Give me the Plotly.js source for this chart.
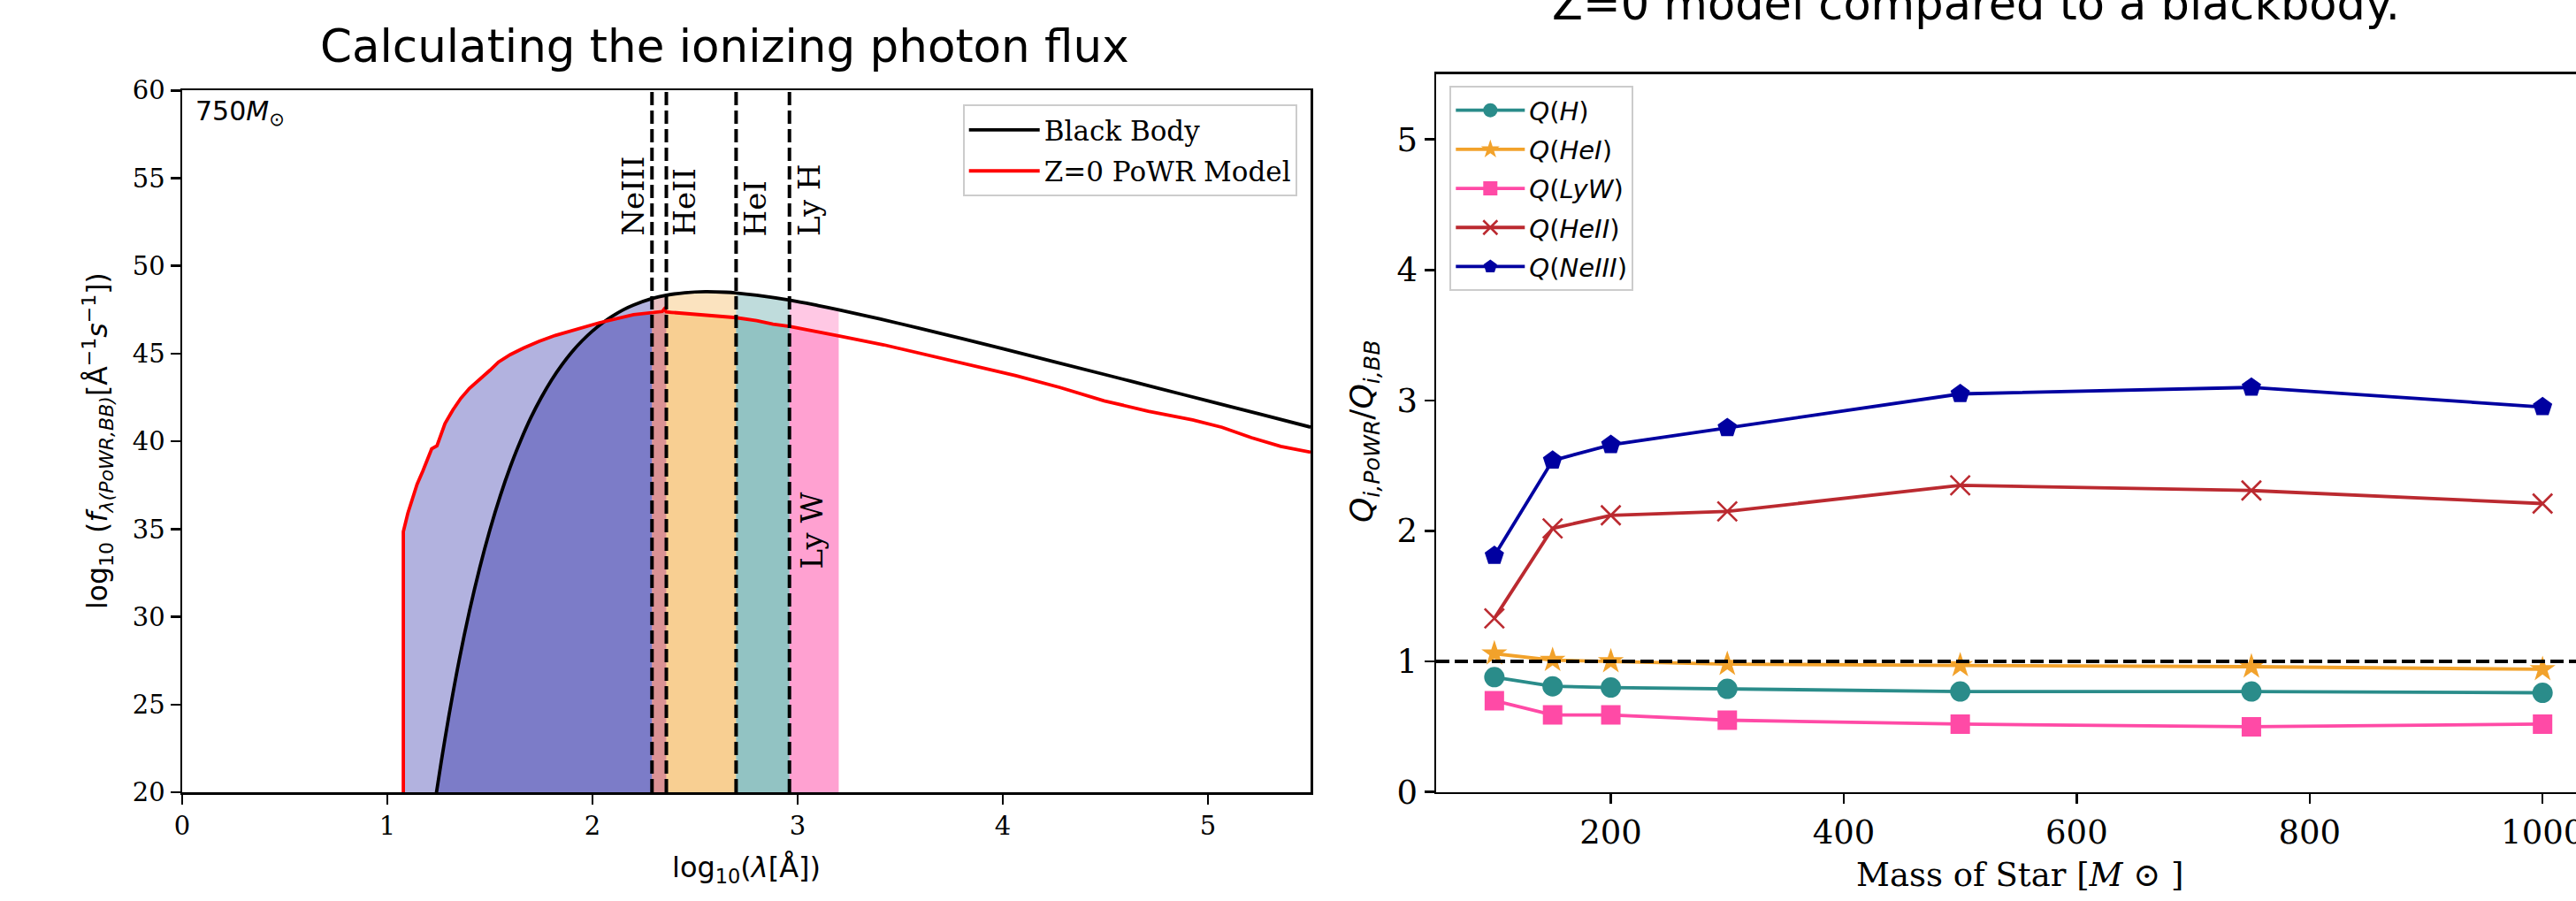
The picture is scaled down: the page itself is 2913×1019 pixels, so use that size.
<!DOCTYPE html>
<html><head><meta charset="utf-8">
<script src="https://cdn.plot.ly/plotly-3.0.1.min.js"></script>
<style>html,body{margin:0;padding:0;background:#fff;} #chart{width:2913px;height:1019px;}</style>
</head><body><div id="chart"></div>
<script>
// ---------- left panel: spectra (log10 lambda [A] vs log10 photon flux) ----------
const lamBB = [1.20, 1.24, 1.27, 1.30, 1.35, 1.40, 1.45, 1.50, 1.55, 1.60, 1.65, 1.70, 1.75, 1.80, 1.85, 1.90, 1.95, 2.00, 2.05, 2.10, 2.15, 2.20, 2.29, 2.36, 2.45, 2.55, 2.65, 2.70, 2.80, 2.96, 3.10, 3.20, 3.40, 3.60, 3.80, 4.00, 4.25, 4.50, 4.75, 5.00, 5.25, 5.50];
const fluxBB = [16.76, 20.02, 22.26, 24.35, 27.52, 30.31, 32.78, 34.96, 36.88, 38.57, 40.05, 41.36, 42.49, 43.49, 44.35, 45.10, 45.74, 46.29, 46.76, 47.16, 47.50, 47.77, 48.14, 48.33, 48.47, 48.53, 48.50, 48.46, 48.33, 48.05, 47.74, 47.50, 46.98, 46.43, 45.86, 45.28, 44.54, 43.80, 43.05, 42.31, 41.56, 40.81];
const lamPoWR = [1.078, 1.078, 1.100, 1.120, 1.145, 1.173, 1.216, 1.242, 1.281, 1.320, 1.358, 1.400, 1.450, 1.500, 1.542, 1.600, 1.665, 1.740, 1.819, 1.920, 2.034, 2.200, 2.290, 2.340, 2.350, 2.360, 2.385, 2.500, 2.600, 2.700, 2.800, 2.880, 2.960, 3.080, 3.200, 3.420, 3.633, 3.849, 4.064, 4.279, 4.494, 4.709, 4.925, 5.068, 5.212, 5.355, 5.500];
const fluxPoWR = [18.00, 34.85, 35.90, 36.69, 37.55, 38.31, 39.57, 39.75, 41.01, 41.80, 42.45, 43.02, 43.52, 44.05, 44.52, 44.95, 45.32, 45.70, 46.04, 46.40, 46.76, 47.22, 47.35, 47.40, 47.55, 47.38, 47.35, 47.23, 47.15, 47.05, 46.88, 46.68, 46.55, 46.26, 46.01, 45.50, 44.91, 44.33, 43.74, 43.07, 42.31, 41.72, 41.22, 40.80, 40.21, 39.71, 39.38];
const edgeNames = ['NeIII', 'HeII', 'HeI', 'Ly H'];
const edgeLam = [2.29, 2.36, 2.70, 2.96];
const lyWName = 'Ly W';
const lyWEnd = 3.20;
const massLabel = '750<i>M</i><sub>⊙</sub>';

// ---------- right panel: Q ratios vs stellar mass ----------
const masses = [100, 150, 200, 300, 500, 750, 1000];
const qH     = [0.88, 0.81, 0.80, 0.79, 0.77, 0.77, 0.76];
const qHeI   = [1.06, 1.01, 1.00, 0.98, 0.97, 0.96, 0.94];
const qLyW   = [0.70, 0.59, 0.59, 0.55, 0.52, 0.50, 0.52];
const qHeII  = [1.33, 2.02, 2.12, 2.15, 2.35, 2.31, 2.21];
const qNeIII = [1.81, 2.54, 2.66, 2.79, 3.05, 3.10, 2.95];
const refRatio = 1;

// ---------- styles ----------
const W = 2913, H = 1019;
const serif = 'DejaVu Serif', sans = 'DejaVu Sans';
const bandRGB = ['0,0,150', '187,42,48', '242,162,43', '42,140,138', '255,74,166'];
const cH = '#2a8c8a', cHeI = '#f2a22b', cLyW = '#ff4aa6', cHeII = '#bb2a30', cNeIII = '#0000a0';
const px = v => v / W, py = v => 1 - v / H;

function cut(xs, ys, lo, hi) {
  const x = [], y = [];
  xs.forEach((v, i) => { if (v >= lo && v <= hi) { x.push(v); y.push(ys[i]); } });
  return {x, y};
}

const traces = [];
const bounds = [-Infinity].concat(edgeLam, [lyWEnd]);
for (let b = 0; b < bounds.length - 1; b++) {
  [[lamBB, fluxBB, 'spline'], [lamPoWR, fluxPoWR, 'linear']].forEach(([xs, ys, shp]) => {
    const s = cut(xs, ys, bounds[b], bounds[b + 1]);
    traces.push({x: s.x, y: s.y, xaxis: 'x', yaxis: 'y', mode: 'lines',
      line: {width: 0, shape: shp}, fill: 'tozeroy', fillcolor: 'rgba(' + bandRGB[b] + ',0.3)',
      showlegend: false, hoverinfo: 'skip'});
  });
}
traces.push({x: lamBB, y: fluxBB, xaxis: 'x', yaxis: 'y', mode: 'lines', name: 'Black Body',
  line: {color: '#000000', width: 3.8, shape: 'spline'}, legend: 'legend', legendgroup: 'bb'});
traces.push({x: lamPoWR, y: fluxPoWR, xaxis: 'x', yaxis: 'y', mode: 'lines', name: 'Z=0 PoWR Model',
  line: {color: '#ff0000', width: 3.8}, legend: 'legend', legendgroup: 'pw'});

const qSeries = [
  ['<i>Q</i>(<i>H</i>)', qH, cH, 'circle', 23],
  ['<i>Q</i>(<i>HeI</i>)', qHeI, cHeI, 'star', 22],
  ['<i>Q</i>(<i>LyW</i>)', qLyW, cLyW, 'square', 22],
  ['<i>Q</i>(<i>HeII</i>)', qHeII, cHeII, 'x-thin', 22],
  ['<i>Q</i>(<i>NeIII</i>)', qNeIII, cNeIII, 'pentagon', 23]
];
qSeries.forEach(([name, ys, col, sym, sz], k) => {
  traces.push({x: masses, y: ys, xaxis: 'x2', yaxis: 'y2', mode: 'lines+markers', name: name,
    legend: 'legend2', legendgroup: 'q' + k, line: {color: col, width: 3.8},
    marker: {symbol: sym, size: sz, color: col, line: {color: col, width: sym === 'x-thin' ? 2.6 : 0}}});
});

const axBase = {showgrid: false, zeroline: false, showline: true, linecolor: '#000', linewidth: 2.5,
  ticks: 'outside', ticklen: 11, tickwidth: 2.5, tickcolor: '#000'};

const shapes = edgeLam.map(v => ({type: 'line', xref: 'x', yref: 'y domain', x0: v, x1: v, y0: 0, y1: 1,
  line: {color: '#000', width: 4, dash: '15px,6px'}, layer: 'above'}));
shapes.push({type: 'line', xref: 'x2 domain', yref: 'y2', x0: 0, x1: 1, y0: refRatio, y1: refRatio,
  line: {color: '#000', width: 4, dash: '15px,6px'}, layer: 'above'});

const labelOff = [-0.093, 0.089, 0.097, 0.096];
const annotations = edgeNames.map((n, i) => ({xref: 'x', yref: 'y', x: edgeLam[i] + labelOff[i], y: 51.6,
  text: n, textangle: -90, showarrow: false, xanchor: 'center', yanchor: 'bottom',
  font: {family: serif, size: 34, color: '#000'}}));
annotations.push({xref: 'x', yref: 'y', x: edgeLam[3] + 0.109, y: 32.6, text: lyWName, textangle: -90,
  showarrow: false, xanchor: 'center', yanchor: 'bottom', font: {family: serif, size: 34, color: '#000'}});
annotations.push({xref: 'paper', yref: 'paper', x: px(219), y: py(106), text: massLabel, showarrow: false,
  xanchor: 'left', yanchor: 'top', font: {family: sans, size: 30, color: '#000'}});
annotations.push({xref: 'paper', yref: 'paper', x: px(820), y: py(51.7), text: 'Calculating the ionizing photon flux',
  showarrow: false, xanchor: 'center', yanchor: 'middle', font: {family: sans, size: 51.5, color: '#000'}});
annotations.push({xref: 'paper', yref: 'paper', x: px(2234), y: py(4.6), text: 'Z=0 model compared to a blackbody.',
  showarrow: false, xanchor: 'center', yanchor: 'middle', font: {family: sans, size: 51, color: '#000'}});
annotations.push({xref: 'paper', yref: 'paper', x: px(844), y: py(960), text: 'log<sub>10</sub>(<i>λ</i>[Å])',
  showarrow: false, xanchor: 'center', yanchor: 'top', font: {family: sans, size: 32, color: '#000'}});
annotations.push({xref: 'paper', yref: 'paper', x: px(110), y: py(498),
  text: 'log<sub>10</sub> (<i>f</i><sub><i>λ(PoWR,BB)</i></sub>[Å<sup>−1</sup><i>s</i><sup>−1</sup>])',
  textangle: -90, showarrow: false, xanchor: 'center', yanchor: 'middle', font: {family: sans, size: 31.5, color: '#000'}});
annotations.push({xref: 'paper', yref: 'paper', x: px(1543), y: py(488),
  text: '<i>Q</i><sub><i>i,PoWR</i></sub>/<i>Q</i><sub><i>i,BB</i></sub>',
  textangle: -90, showarrow: false, xanchor: 'center', yanchor: 'middle', font: {family: sans, size: 36, color: '#000'}});
annotations.push({xref: 'paper', yref: 'paper', x: px(2284), y: py(989), text: 'Mass of Star [<i>M</i> ⊙ ]',
  showarrow: false, xanchor: 'center', yanchor: 'middle', font: {family: serif, size: 37, color: '#000'}});

const layout = {
  width: W, height: H, margin: {l: 0, r: 0, t: 0, b: 0}, paper_bgcolor: '#fff', plot_bgcolor: '#fff',
  xaxis: Object.assign({}, axBase, {domain: [px(206), px(1482)], range: [0, 5.5], tickvals: [0, 1, 2, 3, 4, 5],
    mirror: true, anchor: 'y', tickfont: {family: serif, size: 29, color: '#000'}}),
  yaxis: Object.assign({}, axBase, {domain: [1 - 896 / H, 1 - 102.3 / H], range: [20, 60], dtick: 5, tick0: 20,
    mirror: true, anchor: 'x', tickfont: {family: serif, size: 29, color: '#000'}}),
  xaxis2: Object.assign({}, axBase, {domain: [px(1624), 1], range: [50, 1028.7], tickvals: [200, 400, 600, 800, 1000],
    mirror: true, anchor: 'y2', ticklabeloverflow: 'allow', tickfont: {family: serif, size: 37, color: '#000'}}),
  yaxis2: Object.assign({}, axBase, {domain: [1 - 895.7 / H, 1 - 83.9 / H], range: [0, 5.5], tickvals: [0, 1, 2, 3, 4, 5],
    mirror: false, anchor: 'x2', tickfont: {family: serif, size: 37, color: '#000'}}),
  legend: {x: px(1466.7), xanchor: 'right', y: py(118.3), yanchor: 'top', bgcolor: 'rgba(255,255,255,0.8)',
    bordercolor: '#cccccc', borderwidth: 2, itemwidth: 80, tracegroupgap: 3,
    font: {family: serif, size: 31, color: '#000'}},
  legend2: {x: px(1639.3), xanchor: 'left', y: py(97.3), yanchor: 'top', bgcolor: 'rgba(255,255,255,0.8)',
    bordercolor: '#cccccc', borderwidth: 2, itemwidth: 78, tracegroupgap: 3.5,
    font: {family: sans, size: 29, color: '#000'}},
  shapes: shapes, annotations: annotations, showlegend: true
};
Plotly.newPlot('chart', traces, layout, {displayModeBar: false, staticPlot: true});
</script></body></html>
